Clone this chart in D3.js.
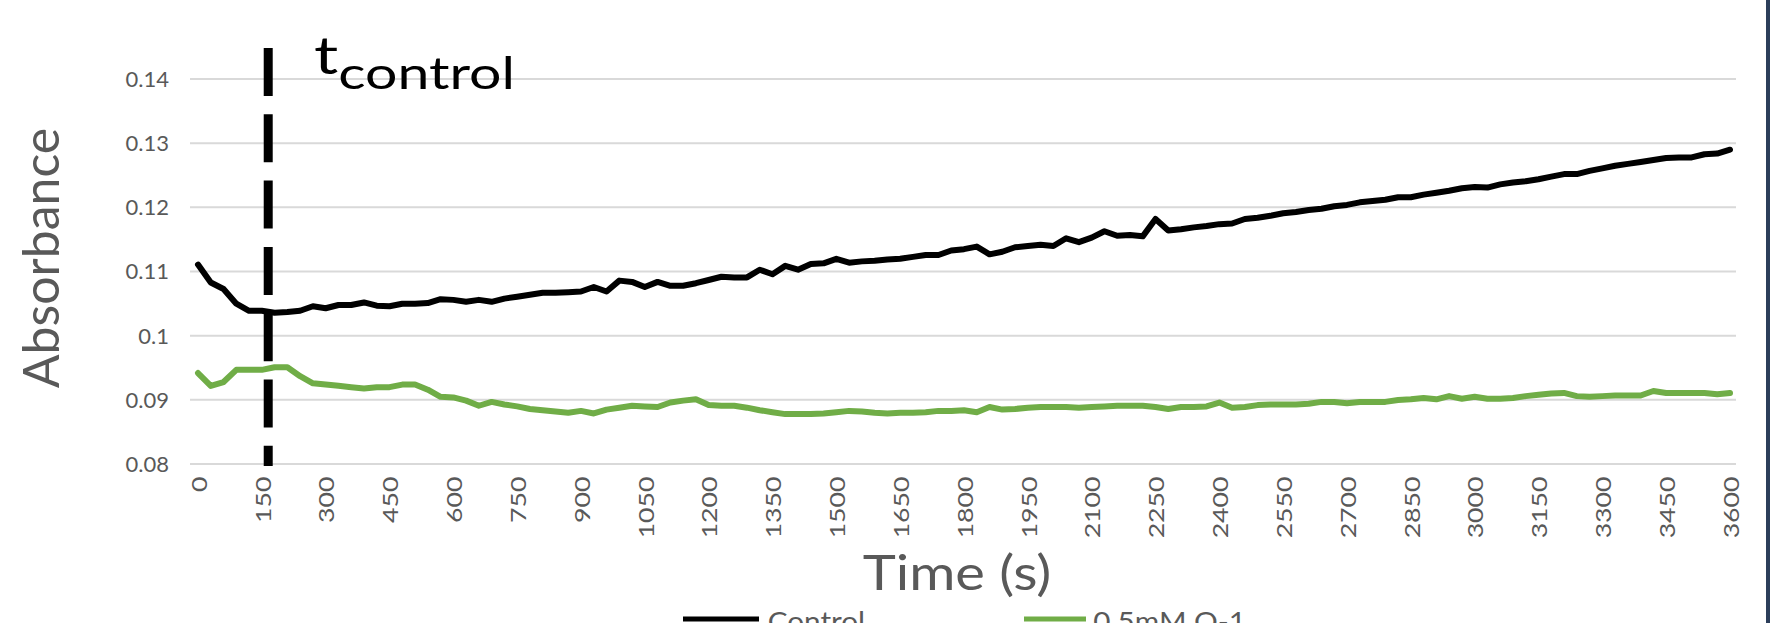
<!DOCTYPE html>
<html>
<head>
<meta charset="utf-8">
<script src="https://cdn.jsdelivr.net/npm/d3@7"></script>
<style>
  body { margin: 0; background: #fff; }
  svg { display: block; font-family: Lato, "Open Sans", sans-serif; }
</style>
</head>
<body>
<div id="chart"></div>
<script>
// sample times (s)
const times = [0, 30, 60, 90, 120, 150, 180, 210, 240, 270, 300, 330, 360, 390, 420, 450, 480, 510, 540, 570,
  600, 630, 660, 690, 720, 750, 780, 810, 840, 870, 900, 930, 960, 990, 1020, 1050, 1080, 1110, 1140, 1170,
  1200, 1230, 1260, 1290, 1320, 1350, 1380, 1410, 1440, 1470, 1500, 1530, 1560, 1590, 1620, 1650, 1680, 1710, 1740, 1770,
  1800, 1830, 1860, 1890, 1920, 1950, 1980, 2010, 2040, 2070, 2100, 2130, 2160, 2190, 2220, 2250, 2280, 2310, 2340, 2370,
  2400, 2430, 2460, 2490, 2520, 2550, 2580, 2610, 2640, 2670, 2700, 2730, 2760, 2790, 2820, 2850, 2880, 2910, 2940, 2970,
  3000, 3030, 3060, 3090, 3120, 3150, 3180, 3210, 3240, 3270, 3300, 3330, 3360, 3390, 3420, 3450, 3480, 3510, 3540, 3570, 3600];

const control = [0.1110, 0.1082, 0.1072, 0.1049, 0.1038, 0.1038, 0.1035, 0.1036, 0.1038, 0.1045, 0.1042, 0.1047, 0.1047, 0.1051, 0.1046, 0.1045, 0.1049, 0.1049, 0.1050, 0.1056,
  0.1055, 0.1052, 0.1055, 0.1052, 0.1057, 0.1060, 0.1063, 0.1066, 0.1066, 0.1067, 0.1068, 0.1075, 0.1068, 0.1085, 0.1083, 0.1075, 0.1083, 0.1077, 0.1077, 0.1081,
  0.1086, 0.1091, 0.1090, 0.1090, 0.1102, 0.1095, 0.1108, 0.1102, 0.1111, 0.1112, 0.1119, 0.1113, 0.1115, 0.1116, 0.1118, 0.1119, 0.1122, 0.1125, 0.1125, 0.1132,
  0.1134, 0.1138, 0.1126, 0.1130, 0.1137, 0.1139, 0.1141, 0.1139, 0.1151, 0.1145, 0.1152, 0.1162, 0.1155, 0.1156, 0.1154, 0.1181, 0.1163, 0.1165, 0.1168, 0.1170,
  0.1173, 0.1174, 0.1181, 0.1183, 0.1186, 0.1190, 0.1192, 0.1195, 0.1197, 0.1201, 0.1203, 0.1207, 0.1209, 0.1211, 0.1215, 0.1215, 0.1219, 0.1222, 0.1225, 0.1229,
  0.1231, 0.1230, 0.1235, 0.1238, 0.1240, 0.1243, 0.1247, 0.1251, 0.1251, 0.1256, 0.1260, 0.1264, 0.1267, 0.1270, 0.1273, 0.1276, 0.1277, 0.1277, 0.1282, 0.1283, 0.1289];

const q1 = [0.0941, 0.0921, 0.0927, 0.0946, 0.0946, 0.0946, 0.0950, 0.0950, 0.0936, 0.0925, 0.0923, 0.0921, 0.0919, 0.0917, 0.0919, 0.0919, 0.0923, 0.0923, 0.0915, 0.0904,
  0.0903, 0.0898, 0.0890, 0.0896, 0.0892, 0.0889, 0.0885, 0.0883, 0.0881, 0.0879, 0.0882, 0.0878, 0.0884, 0.0887, 0.0890, 0.0889, 0.0888, 0.0895, 0.0898, 0.0900,
  0.0891, 0.0890, 0.0890, 0.0887, 0.0883, 0.0880, 0.0877, 0.0877, 0.0877, 0.0878, 0.0880, 0.0882, 0.0881, 0.0879, 0.0878, 0.0879, 0.0879, 0.0880, 0.0882, 0.0882,
  0.0883, 0.0880, 0.0888, 0.0884, 0.0885, 0.0887, 0.0888, 0.0888, 0.0888, 0.0887, 0.0888, 0.0889, 0.0890, 0.0890, 0.0890, 0.0888, 0.0885, 0.0888, 0.0888, 0.0889,
  0.0895, 0.0887, 0.0888, 0.0891, 0.0892, 0.0892, 0.0892, 0.0893, 0.0896, 0.0896, 0.0894, 0.0896, 0.0896, 0.0896, 0.0899, 0.0900, 0.0902, 0.0900, 0.0905, 0.0901,
  0.0904, 0.0901, 0.0901, 0.0902, 0.0905, 0.0907, 0.0909, 0.0910, 0.0905, 0.0904, 0.0905, 0.0906, 0.0906, 0.0906, 0.0913, 0.0910, 0.0910, 0.0910, 0.0910, 0.0908, 0.0910];

const xTickLabels = ["0", "150", "300", "450", "600", "750", "900", "1050", "1200", "1350", "1500", "1650", "1800",
  "1950", "2100", "2250", "2400", "2550", "2700", "2850", "3000", "3150", "3300", "3450", "3600"];
const yTickLabels = ["0.08", "0.09", "0.1", "0.11", "0.12", "0.13", "0.14"];
const seriesNames = ["Control", "0.5mM Q-1"];
const tControl = 165;

const width = 1770, height = 623;
const gridLeft = 190, gridRight = 1736;
const grey = "#595959";
const font = "Lato, 'Open Sans', sans-serif";
const colors = {"Control": "#000000", "0.5mM Q-1": "#70ad47"};

const svg = d3.select("#chart").append("svg")
    .attr("width", width)
    .attr("height", height);

svg.append("rect").attr("width", width).attr("height", height).attr("fill", "#fff");

const x = d3.scaleLinear().domain([0, 3600]).range([198, 1730]);
const y = d3.scaleLinear().domain([0.08, 0.14]).range([463.5, 78.5]);

// y axis + gridlines
const yAxis = svg.append("g")
    .attr("transform", `translate(${gridLeft},0)`)
    .call(d3.axisLeft(y)
      .tickValues(yTickLabels.map(Number))
      .tickFormat((d, i) => yTickLabels[i])
      .tickSize(-(gridRight - gridLeft))
      .tickPadding(21))
    .attr("font-family", font);
yAxis.select(".domain").remove();
yAxis.selectAll("line").attr("stroke", "#d9d9d9").attr("stroke-width", 2);
yAxis.selectAll("text")
    .attr("fill", grey)
    .style("font-size", "22px")
    .attr("dy", "0.36em");

// x axis labels (rotated)
const xAxis = svg.append("g")
    .attr("transform", `translate(0,${y(0.08)})`)
    .call(d3.axisBottom(x)
      .tickValues(xTickLabels.map(Number))
      .tickFormat((d, i) => xTickLabels[i])
      .tickSize(0))
    .attr("font-family", font);
xAxis.select(".domain").remove();
xAxis.selectAll("text")
    .attr("fill", grey)
    .style("font-size", "21px")
    .attr("y", 0)
    .attr("dy", null)
    .attr("text-anchor", "end")
    .attr("dominant-baseline", "central")
    .attr("transform", "translate(0,13) rotate(-90) scale(1.27,1)");

// lines
const line = d3.line()
    .x((d, i) => x(times[i]))
    .y(d => y(d));

svg.append("g")
    .attr("fill", "none")
    .attr("stroke-width", 6)
    .attr("stroke-linejoin", "round")
    .attr("stroke-linecap", "round")
  .selectAll("path")
  .data([q1, control])
  .join("path")
    .attr("stroke", (d, i) => i === 0 ? colors["0.5mM Q-1"] : colors["Control"])
    .attr("d", line);

// t_control dashed marker
svg.append("line")
    .attr("x1", x(tControl)).attr("x2", x(tControl))
    .attr("y1", 48).attr("y2", 466)
    .attr("stroke", "#000")
    .attr("stroke-width", 9)
    .attr("stroke-dasharray", "48 18.3");

const tLabel = svg.append("text")
    .attr("transform", "translate(314,74) scale(1.3,1)")
    .attr("fill", "#000");
tLabel.append("tspan").style("font-size", "52px").text("t");
tLabel.append("tspan").style("font-size", "44px").attr("dy", 15).text("control");

// axis titles
svg.append("text")
    .attr("transform", "translate(59,258) rotate(-90)")
    .attr("text-anchor", "middle")
    .attr("fill", grey)
    .style("font-size", "50px")
    .text("Absorbance");

svg.append("text")
    .attr("transform", "translate(957,590) scale(1.17,1)")
    .attr("text-anchor", "middle")
    .attr("fill", grey)
    .style("font-size", "48px")
    .text("Time (s)");

// legend
const legendPos = [{x: 683, len: 76}, {x: 1024, len: 62}];
const legend = svg.append("g")
  .selectAll("g")
  .data(seriesNames)
  .join("g")
    .attr("transform", (d, i) => `translate(${legendPos[i].x},619)`);
legend.append("line")
    .attr("x1", 0).attr("x2", (d, i) => legendPos[i].len)
    .attr("stroke", d => colors[d])
    .attr("stroke-width", 5);
legend.append("text")
    .attr("x", (d, i) => legendPos[i].len + 1)
    .attr("y", 12)
    .attr("fill", grey)
    .style("font-size", "27px")
    .attr("transform", "scale(1.1,1)")
    .text(d => d);

// right edge border
svg.append("rect")
    .attr("x", 1766).attr("y", 0)
    .attr("width", 4).attr("height", height)
    .attr("fill", "#2c3e5a");
</script>
</body>
</html>
